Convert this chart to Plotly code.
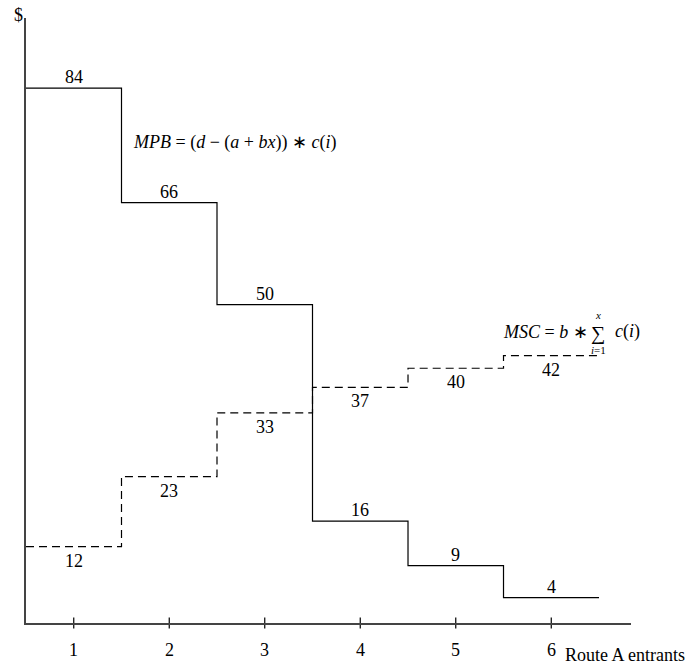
import plotly.graph_objects as go

entrants = [1, 2, 3, 4, 5, 6]
mpb = [84, 66, 50, 16, 9, 4]
msc = [12, 23, 33, 37, 40, 42]
tick_labels = ["1", "2", "3", "4", "5", "6"]

FONT = "Liberation Serif"
FS = 18

def step_xy(xs, ys):
    return [xs[0] - 0.5] + list(xs) + [xs[-1] + 0.5], [ys[0]] + list(ys) + [ys[-1]]

fig = go.Figure()
sx, sy = step_xy(entrants, mpb)
fig.add_trace(go.Scatter(x=sx, y=sy, mode="lines", line=dict(color="black", width=1.2, shape="hvh"),
                         hoverinfo="skip"))
sx, sy = step_xy(entrants, msc)
fig.add_trace(go.Scatter(x=sx, y=sy, mode="lines", line=dict(color="black", width=1.2, shape="hvh", dash="8px,5px"),
                         hoverinfo="skip"))
# crossing tick marks
fig.add_trace(go.Scatter(x=entrants, y=[0]*len(entrants), mode="markers",
                         marker=dict(symbol="line-ns-open", size=8, color="black", line=dict(color="black", width=1.2)),
                         cliponaxis=False, hoverinfo="skip"))

def f(size=FS):
    return dict(family=FONT, size=size, color="black")

ann = []
for xv, v in zip(entrants, mpb):
    ann.append(dict(x=xv, y=v, text=str(v), showarrow=False, yshift=11, font=f()))
for xv, v in zip(entrants, msc):
    ann.append(dict(x=xv, y=v, text=str(v), showarrow=False, yshift=-14, font=f()))
for xv, t in zip(entrants, tick_labels):
    ann.append(dict(x=xv, y=0, text=t, showarrow=False, yshift=-27, font=f()))

ann.append(dict(xref="paper", yref="paper", x=(563-26)/605, y=-(655-623)/605, xanchor="left", yanchor="middle",
                text="Route A entrants", showarrow=False, font=f()))
ann.append(dict(xref="paper", yref="paper", x=(18-26)/605, y=(623-15)/605, xanchor="center", yanchor="middle",
                text="$", showarrow=False, font=f()))

ann.append(dict(x=1.60, y=75.5, xanchor="left", yanchor="middle", showarrow=False,
                text="<i>MPB</i> = (<i>d</i> − (<i>a</i> + <i>bx</i>)) ∗ <i>c</i>(<i>i</i>)",
                font=f()))
ann.append(dict(x=6.405, y=45.7, xanchor="right", yanchor="middle", showarrow=False,
                text="<i>MSC</i> = <i>b</i> ∗", font=f()))
ann.append(dict(x=6.49, y=45.5, xanchor="center", yanchor="middle", showarrow=False,
                text="∑", font=f(20)))
ann.append(dict(x=6.49, y=48.3, xanchor="center", yanchor="middle", showarrow=False,
                text="<i>x</i>", font=f(11)))
ann.append(dict(x=6.49, y=42.9, xanchor="center", yanchor="middle", showarrow=False,
                text="<i>i</i>=1", font=f(11)))
ann.append(dict(x=6.647, y=45.7, xanchor="left", yanchor="middle", showarrow=False,
                text="<i>c</i>(<i>i</i>)", font=f()))

fig.update_layout(
    width=699, height=666,
    margin=dict(l=26, r=68, t=18, b=43, autoexpand=False),
    paper_bgcolor="white", plot_bgcolor="white",
    showlegend=False,
    annotations=ann,
    xaxis=dict(range=[0.5, 6.835], showgrid=False, zeroline=False, showticklabels=False, ticks="",
               showline=True, linecolor="#444", linewidth=1.5, automargin=False),
    yaxis=dict(range=[0, 95], showgrid=False, zeroline=False, showticklabels=False, ticks="",
               showline=True, linecolor="#444", linewidth=1.5, automargin=False),
)

fig.write_html("out.html", config={"displayModeBar": False},
               post_script="document.body.style.margin='0px';document.body.style.overflow='hidden';")
